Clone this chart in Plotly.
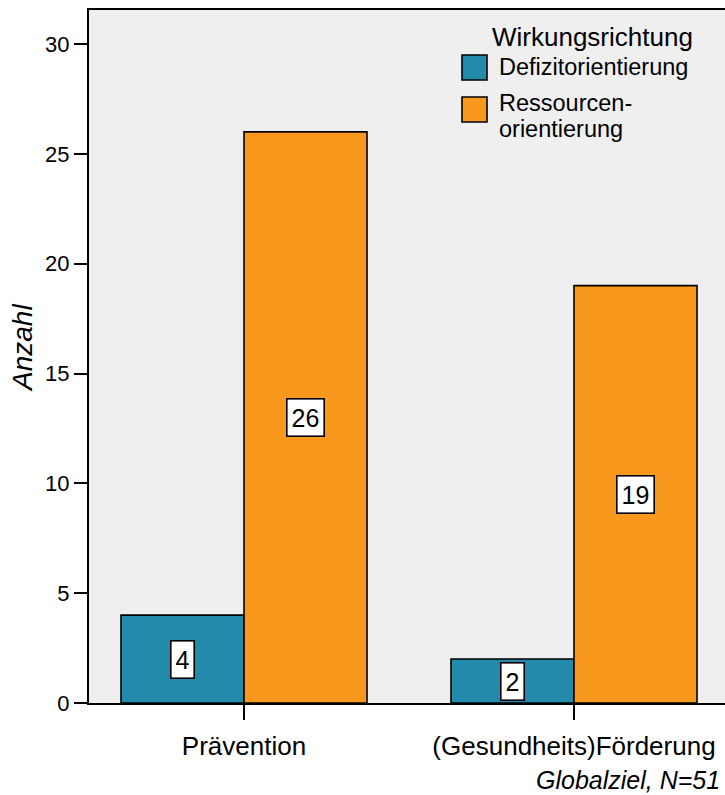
import plotly.graph_objects as go

# ---- data ----
categories = ["Prävention", "(Gesundheits)Förderung"]
series_names = ["Defizitorientierung", "Ressourcenorientierung"]
legend_lines = [["Defizitorientierung"], ["Ressourcen-", "orientierung"]]
defizit = [4, 2]
ressourcen = [26, 19]
series_values = [defizit, ressourcen]
y_tick_vals = [0, 5, 10, 15, 20, 25, 30]
legend_title = "Wirkungsrichtung"
x_title = "Globalziel, N=51"
y_title = "Anzahl"

# ---- style ----
colors = ["#248AAC", "#F8991E"]
FONT = "Liberation Sans, Arial, sans-serif"
W_FIG, H_FIG = 725, 795
L, R, T, B = 89, 0, 10, 92
PW, PH = W_FIG - L - R, H_FIG - T - B
BARGAP = 0.2545
X_RANGE = [-0.4697, 1.4576]
Y_RANGE = [0, 31.55]


def px(x):
    return (x - L) / PW


def py(y):
    return (T + PH - y) / PH


fig = go.Figure()
xs = list(range(len(categories)))
for name, vals, col in zip(series_names, series_values, colors):
    fig.add_trace(go.Bar(
        x=xs, y=vals, name=name,
        marker=dict(color=col, line=dict(color="black", width=1.6)),
        showlegend=False, hoverinfo="skip",
    ))

# value labels in boxes at the middle of each bar
bar_w = (1 - BARGAP) / len(series_values)
annotations = []
for i, vals in enumerate(series_values):
    off = (i - (len(series_values) - 1) / 2) * bar_w
    for j, v in enumerate(vals):
        annotations.append(dict(
            x=xs[j] + off, y=v / 2, xref="x", yref="y", text=str(v),
            showarrow=False, font=dict(family=FONT, size=25, color="black"),
            bgcolor="white", bordercolor="black", borderwidth=1.6, borderpad=4,
        ))

# axis titles
annotations.append(dict(x=px(722), y=py(780), xref="paper", yref="paper",
                        text=f"<i>{x_title}</i>", showarrow=False, xanchor="right",
                        yanchor="middle", font=dict(family=FONT, size=25, color="black")))
annotations.append(dict(x=px(23), y=py(348), xref="paper", yref="paper",
                        text=f"<i>{y_title}</i>", showarrow=False, textangle=-90,
                        xanchor="center", yanchor="middle",
                        font=dict(family=FONT, size=28, color="black")))

# custom legend
annotations.append(dict(x=px(592), y=py(37), xref="paper", yref="paper",
                        text=legend_title, showarrow=False, xanchor="center", yanchor="middle",
                        font=dict(family=FONT, size=26, color="black")))
shapes = []
sq_tops = [55, 97]
line_centers = [[67], [103, 129]]
for k, col in enumerate(colors):
    shapes.append(dict(type="rect", xref="paper", yref="paper",
                       x0=px(462), x1=px(487), y0=py(sq_tops[k]), y1=py(sq_tops[k] + 25),
                       fillcolor=col, line=dict(color="black", width=1.6)))
    for txt, yc in zip(legend_lines[k], line_centers[k]):
        annotations.append(dict(x=px(497), y=py(yc), xref="paper", yref="paper",
                                text=txt, showarrow=False, xanchor="left", yanchor="middle",
                                font=dict(family=FONT, size=23.5, color="black")))

fig.update_layout(
    width=W_FIG, height=H_FIG,
    margin=dict(l=L, r=R, t=T, b=B, pad=0),
    paper_bgcolor="white", plot_bgcolor="#EFEFEF",
    barmode="group", bargap=BARGAP, bargroupgap=0,
    font=dict(family=FONT, color="black"),
    annotations=annotations, shapes=shapes,
    showlegend=False,
)
fig.update_xaxes(
    range=X_RANGE, tickvals=xs, ticktext=categories,
    ticks="outside", ticklen=15, tickwidth=2, tickcolor="black",
    showline=True, linecolor="black", linewidth=2, mirror=True,
    showgrid=False, zeroline=False, ticklabelstandoff=4,
    tickfont=dict(family=FONT, size=26, color="black"),
)
fig.update_yaxes(
    range=Y_RANGE, tickvals=y_tick_vals,
    ticks="outside", ticklen=13, tickwidth=2, tickcolor="black",
    showline=True, linecolor="black", linewidth=2,
    showgrid=False, zeroline=False,
    tickfont=dict(family=FONT, size=22, color="black"),
)

fig.write_html(
    "out.html",
    config={"displayModeBar": False},
    post_script="document.body.style.margin='0';document.body.style.padding='0';",
)
